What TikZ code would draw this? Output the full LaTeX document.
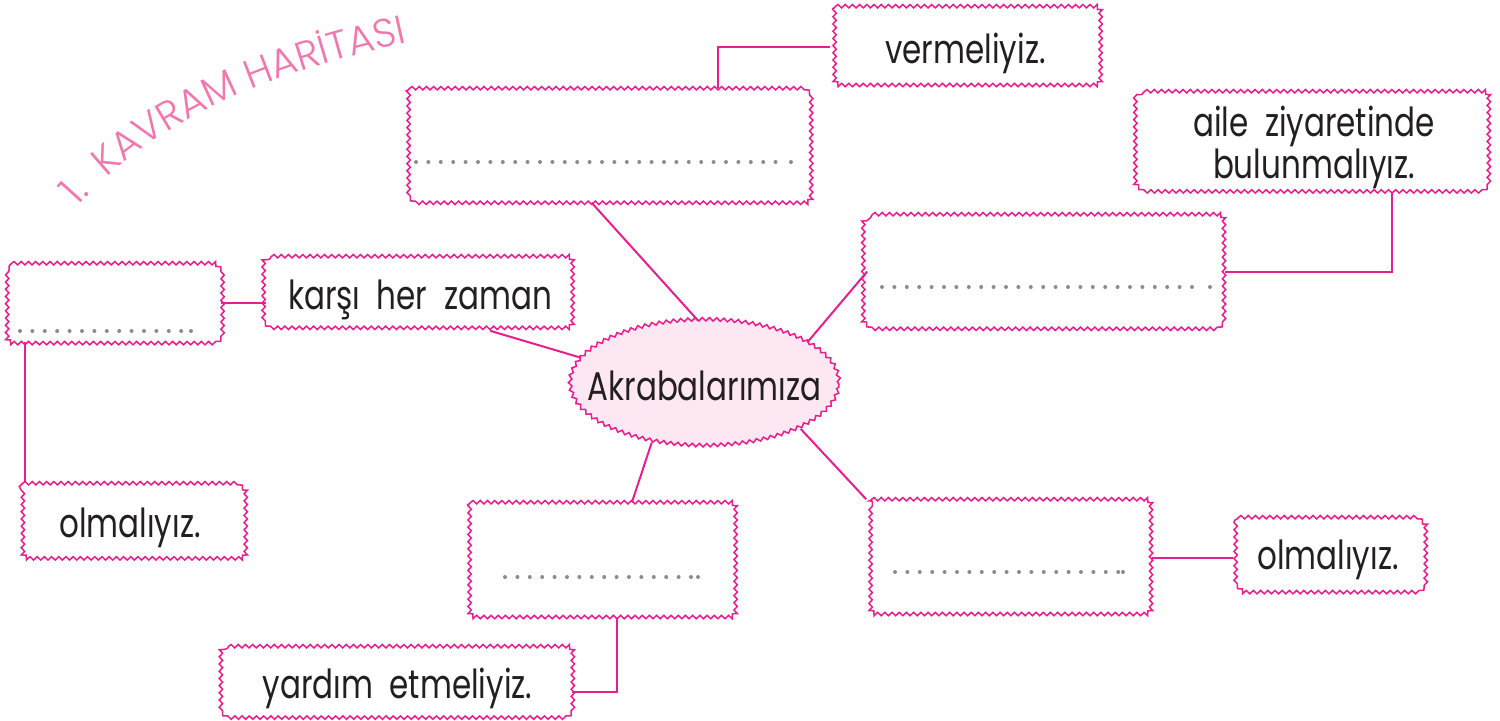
\documentclass[tikz,border=0pt]{standalone}
\usepackage{fontspec}
\usetikzlibrary{shapes.geometric,decorations.pathmorphing,decorations.text}

\setmainfont{Poppins}[FakeStretch=0.775]
\IfFontExistsTF{Poppins Light}{\newfontfamily\titlefont{Poppins Light}}{\newfontfamily\titlefont{Poppins}}

\definecolor{mappink}{RGB}{232,30,140}
\definecolor{titlepink}{RGB}{240,120,175}
\definecolor{ellpink}{RGB}{252,231,242}
\definecolor{dotgray}{RGB}{140,140,140}
\definecolor{inkblack}{RGB}{35,31,32}

\def\px{0.25pt}
\def\cut{1.4pt}

\begin{document}
\begin{tikzpicture}[x=\px, y=-\px, shift={(-750,-360)}]

\tikzset{wavy/.style = {draw=mappink, line width=0.38pt, decorate, decoration={snake, segment length=1.8pt, amplitude=0.42pt}}}
\tikzset{card/.style n args = {2}{rectangle, inner sep=0pt, minimum width=#1*\px, minimum height=#2*\px, text=inkblack, font=\fontsize{10}{10.5}\selectfont}}
\tikzset{oneline/.style = {text height=8pt, text depth=0pt}}
\tikzset{link/.style = {draw=mappink, line width=0.5pt}}

\useasboundingbox (0,0) rectangle (1500,720);

\path[decorate, decoration={text along path, text color=titlepink, text={|\titlefont\fontsize{10}{10}\selectfont|1.\ \ KAVRAM\ HARİTASI}}] (78,207) .. controls (150,125) and (260,70) .. (450,34);

\node[card={402}{113}] (dots1) at (606,145.5) {};
\node[card={269}{80}, oneline] (verm) at (965.5,47) {vermeliyiz.};
\node[card={348}{100}, align=center, text depth=0pt] (aile) at (1314,142) {aile\ \ ziyaretinde\\bulunmalıyız.};
\node[card={356}{113}] (dots2) at (1046,271.5) {};
\node[card={213}{77}] (dots3) at (113.5,302.5) {};
\node[card={306}{73}, oneline] (karsi) at (420,293.5) {karşı\ \ her\ \ zaman};
\node[card={224}{75}, oneline] (olm1) at (130,521.5) {olmalıyız.};
\node[card={270}{115}] (dots5) at (601,560.5) {};
\node[card={347}{71}, oneline] (yardim) at (397.5,682.5) {yardım\ \ etmeliyiz.};
\node[card={284}{115}] (dots4) at (1009,557.5) {};
\node[card={188}{71}, oneline] (olm2) at (1328,553.5) {olmalıyız.};

\foreach \b in {dots1, verm, aile, dots2, dots3, karsi, olm1, dots5, yardim, dots4, olm2}
	\draw[wavy] ([xshift=\cut]\b.north west) -- ([xshift=-\cut]\b.north east) -- ([yshift=-\cut]\b.north east)
		-- ([yshift=\cut]\b.south east) -- ([xshift=-\cut]\b.south east)
		-- ([xshift=\cut]\b.south west) -- ([yshift=\cut]\b.south west)
		-- ([yshift=-\cut]\b.north west) -- ([xshift=\cut]\b.north west);

\node[wavy, ellipse, fill=ellpink, minimum width=269*\px, minimum height=126*\px, inner xsep=-15pt, inner ysep=0pt, text=inkblack, font=\fontsize{10}{10.5}\selectfont, oneline] (ell) at (704.5,384) {Akrabalarımıza};

\foreach \sx/\sy/\n/\ex in {416/162/29/791, 882/287/25/1210, 20/331/13/191, 895/572/18/1123, 505/577/15/698}
{
	\foreach \i in {0,...,\n}
		\fill[dotgray] ({\sx + 12.4*\i}, \sy) circle (0.5pt);
	\fill[dotgray] (\ex, \sy) circle (0.5pt);
}

\draw[link] (karsi.-28.6) -- (ell.168.5);
\draw[link] (dots1.256) -- (ell.96);
\draw[link] (dots2.west) -- (ell.22);
\draw[link] (dots4.north west) -- (ell.-25);
\draw[link] (dots5.62) -- (ell.228);
\draw[link] (dots1.27.3) |- (verm.west);
\draw[link] (aile.-33.8) |- (dots2.east);
\draw[link] (dots3.east) -- (dots3.east -| karsi.west);
\draw[link] (dots3.204.2) -- (dots3.204.2 |- olm1.north);
\draw[link] (dots5.-75.4) |- (yardim.-3.1);
\draw[link] (dots4.east) -- (dots4.east -| olm2.west);

\end{tikzpicture}
\end{document}
